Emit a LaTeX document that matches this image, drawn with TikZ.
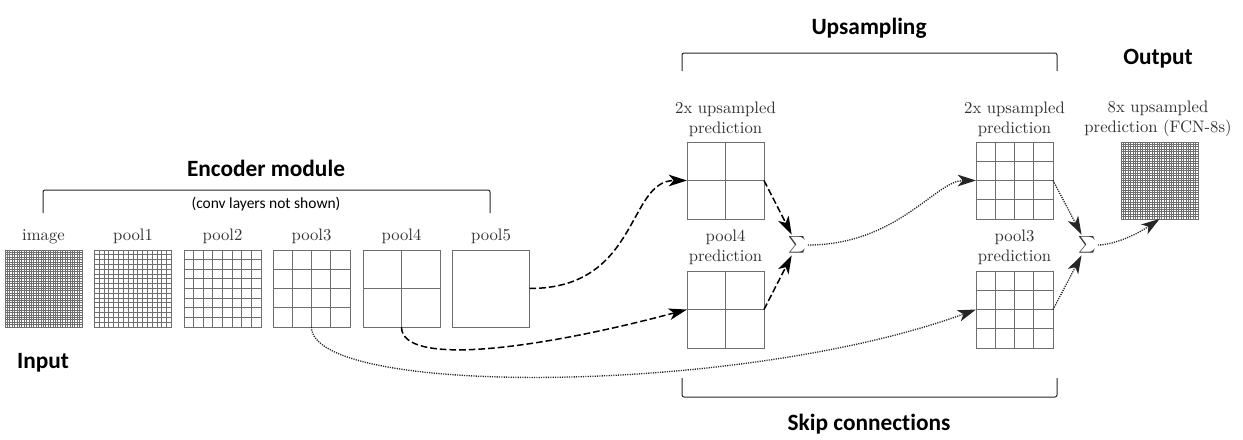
\documentclass[tikz,border=0pt]{standalone}
\usepackage{fontspec}
\newfontfamily\headfont{Carlito}[Ligatures={NoCommon}]
\usetikzlibrary{arrows.meta,calc}
\definecolor{gridc}{RGB}{110,110,110}
\definecolor{labc}{RGB}{50,50,50}
\newcommand\mkgrid[4]{% name, cx, cy, n
  \node[box] (#1) at (#2,#3) {};
  \foreach \i [evaluate=\i as \f using \i/#4] in {1,...,#4}{%
    \ifnum\i<#4
      \draw[gl] ($(#1.north west)!\f!(#1.north east)$) -- ($(#1.south west)!\f!(#1.south east)$);
      \draw[gl] ($(#1.north west)!\f!(#1.south west)$) -- ($(#1.north east)!\f!(#1.south east)$);
    \fi}%
}
\begin{document}
\begin{tikzpicture}[x=0.6pt,y=-0.6pt,
  box/.style={draw=gridc, line width=0.6pt, minimum size=46.2pt, inner sep=0pt, outer sep=0pt},
  gl/.style={draw=gridc, line width=0.55pt},
  lbl/.style={font=\fontsize{10}{12.2}\selectfont, align=center, text=labc, inner sep=0pt},
  head/.style={font=\headfont\bfseries\fontsize{14}{16}\selectfont, inner sep=0pt},
  brace/.style={draw=black!85, line width=0.6pt, rounded corners=1.2pt},
  sig/.style={inner sep=1pt, text=labc},
  dsh/.style={draw=black, line width=0.9pt, dash pattern=on 4pt off 1.8pt, -{Stealth[length=11pt,width=7pt,inset=3pt]}},
  dot/.style={draw=black!85, line width=0.8pt, dash pattern=on 0.7pt off 0.7pt, -{Stealth[length=11pt,width=7pt,inset=3pt]}},
]
\useasboundingbox (0,0) rectangle (1243,439);

% encoder grids
\mkgrid{image}{43.5}{288.5}{32}
\mkgrid{pool1}{133}{288.5}{16}
\mkgrid{pool2}{222.5}{288.5}{8}
\mkgrid{pool3}{311.5}{288.5}{4}
\mkgrid{pool4}{401.5}{288.5}{2}
\mkgrid{pool5}{491}{288.5}{1}
% upsampling grids
\mkgrid{up1}{725.5}{180.5}{2}
\mkgrid{p4p}{725.5}{309.5}{2}
\mkgrid{up2}{1014.5}{180.5}{4}
\mkgrid{p3p}{1014.5}{309.5}{4}
\mkgrid{out}{1159.5}{180.5}{32}

% labels
\node[lbl, anchor=base] (limage) at (43.5,240) {image};
\node[lbl, anchor=base] (lpool1) at (133,240) {pool1};
\node[lbl, anchor=base] (lpool2) at (222.5,240) {pool2};
\node[lbl, anchor=base] (lpool3) at (311.5,240) {pool3};
\node[lbl, anchor=base] (lpool4) at (401.5,240) {pool4};
\node[lbl, anchor=base] (lpool5) at (491,240) {pool5};
\node[lbl] (lup1) at (725.5,119) {2x upsampled\\prediction};
\node[lbl] (lp4p) at (725.5,247) {pool4\\prediction};
\node[lbl] (lup2) at (1014.5,119) {2x upsampled\\prediction};
\node[lbl] (lp3p) at (1014.5,247) {pool3\\prediction};
\node[lbl] (lout) at (1158,119) {8x upsampled\\prediction (FCN-8s)};

% sums
\node[sig] (s1) at (797,245) {$\sum$};
\node[sig] (s2) at (1087,245) {$\sum$};

% headings and brackets
\node[head] (enc) at (266,168) {Encoder module};
\node[font=\headfont\fontsize{9.3}{11}\selectfont, inner sep=0pt] (conv) at (266,204) {(conv layers not shown)};
\draw[brace] (43,213) -- (43,190) -- (490,190) -- (490,213);
\node[head] (ups) at (869,28) {Upsampling};
\draw[brace] (682,71) -- (682,53) -- (1057,53) -- (1057,71);
\node[head] (outt) at (1158,59) {Output};
\node[head] (skip) at (869,424) {Skip connections};
\draw[brace] (682,378) -- (682,397) -- (1057,397) -- (1057,378);
\node[head] (inp) at (43,363) {Input};

% connectors
\draw[dsh] (pool5.east) .. controls +(110,0) and +(-60,0) .. (up1.west);
\draw[dsh] (pool4.south) .. controls +(0,40) and +(-150,40) .. (p4p.west);
\draw[dsh] (up1.east) -- (s1);
\draw[dsh] (p4p.east) -- (s1);
\draw[dot] (s1) .. controls +(100,0) and +(-40,0) .. (up2.west);
\draw[dot] (pool3.south) .. controls +(0,70) and +(-235,86) .. (p3p.west);
\draw[dot] (up2.east) -- (s2);
\draw[dot] (p3p.east) -- (s2);
\draw[dot] (s2) .. controls +(25,0) and +(-25,17) .. (out.south);
\end{tikzpicture}
\end{document}
